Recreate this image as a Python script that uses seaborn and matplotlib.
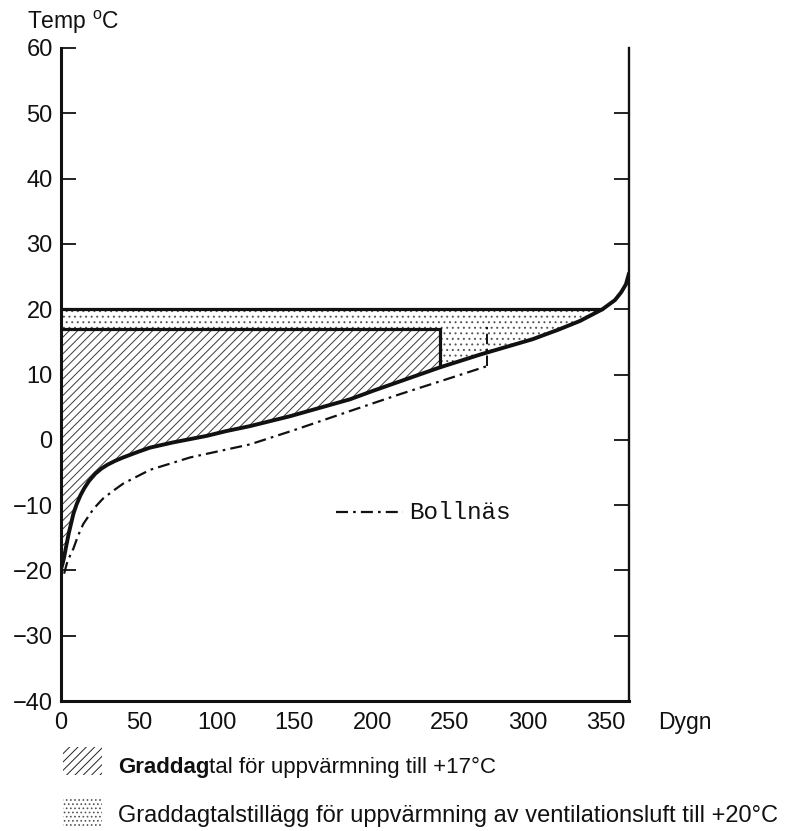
import matplotlib
matplotlib.use("Agg")
import matplotlib.pyplot as plt
from matplotlib.patches import Rectangle
import numpy as np
import seaborn as sns

# Duration curve of daily mean temperature (reference station)
days = [0, 1, 2, 3, 4, 5, 6.5, 8, 10, 12.5, 15, 18, 22, 26, 30, 35, 40, 50,
        57.2, 72, 93.6, 106.5, 121.5, 147, 185.7, 200.5, 243.6, 270, 303,
        320, 333.5, 348, 356, 360, 363, 365]
temps = [-19.8, -19.0, -18.0, -16.7, -15.5, -14.3, -12.8, -11.3, -9.9, -8.5,
         -7.4, -6.3, -5.2, -4.4, -3.8, -3.2, -2.7, -1.8, -1.2, -0.4, 0.6,
         1.35, 2.1, 3.6, 6.2, 7.5, 11.1, 13.1, 15.4, 16.9, 18.2, 20.0, 21.4,
         22.6, 23.8, 25.5]

# Duration curve for Bollnäs (ends where heating season stops)
boll_days = [2, 3.7, 4.7, 7.9, 11.1, 14.3, 20.8, 27, 33.6, 40, 57.2, 83,
             121.5, 150, 185.7, 218, 254, 274]
boll_temps = [-20.5, -19.0, -18.3, -16.7, -14.6, -12.9, -10.6, -9.0, -7.8,
              -6.7, -4.6, -2.7, -0.7, 1.5, 4.4, 7.0, 9.75, 11.3]
boll_limit = [11.3, 17.4]

# Heating limits
indoor_base = 17          # degree-day base temperature
vent_base = 20            # ventilation air temperature
heating_end = 243.6       # last heating day for the +17 base
vent_end = 348            # where the curve crosses +20

x_ticks = [0, 50, 100, 150, 200, 250, 300, 350]
y_ticks = [-40, -30, -20, -10, 0, 10, 20, 30, 40, 50, 60]
legend_labels = ["Graddag", "tal för uppvärmning till +17°C",
                 "Graddagtalstillägg för uppvärmning av ventilationsluft till +20°C"]

sns.set_theme(style="white")
plt.rcParams["font.family"] = ["Liberation Sans", "DejaVu Sans"]
plt.rcParams["mathtext.fontset"] = "custom"
plt.rcParams["mathtext.rm"] = "Liberation Sans"
plt.rcParams["hatch.linewidth"] = 0.7

W, H = 808, 831
fig = plt.figure(figsize=(W / 100, H / 100), dpi=100)
fig.patch.set_facecolor("white")
ax = fig.add_axes([61 / W, 1 - 701 / H, (629 - 61) / W, (701 - 48) / H])
ax.set_facecolor("white")

d = np.array(days)
t = np.array(temps)

# Hatched area: degree days to +17
m1 = d <= heating_end
ax.fill_between(d[m1], t[m1], indoor_base, facecolor="white",
                edgecolor="#3a3a3a", hatch="////", linewidth=0)

# Dotted area: extra degree days for ventilation air to +20
ax.fill_between([0, heating_end], indoor_base, vent_base, facecolor="white",
                edgecolor="#555555", hatch="...", linewidth=0)
m2 = (d >= heating_end) & (d <= vent_end)
ax.fill_between(d[m2], t[m2], vent_base, facecolor="white",
                edgecolor="#555555", hatch="...", linewidth=0)

# Boundary lines
ax.plot([0, vent_end], [vent_base, vent_base], color="#111111", lw=2.3,
        solid_capstyle="butt")
ax.plot([0, heating_end, heating_end], [indoor_base, indoor_base, t[m1][-1]],
        color="#111111", lw=2.3, solid_joinstyle="miter")

dashdot = (0, (5.4, 2.3, 1.2, 2.3))
sns.lineplot(x=boll_days, y=boll_temps, ax=ax, color="#111111", lw=1.6,
             linestyle=dashdot, estimator=None, sort=False)
ax.plot([boll_days[-1], boll_days[-1]], boll_limit, color="#111111", lw=1.4,
        linestyle=dashdot)

sns.lineplot(x=days, y=temps, ax=ax, color="#111111", lw=2.8,
             estimator=None, sort=False, solid_joinstyle="round")

# In-plot key for the Bollnäs curve
ax.plot([177, 220], [-11.1, -11.1], color="#111111", lw=1.6, linestyle=dashdot)
ax.text(224, -11.1, "Bollnäs", family=["Liberation Mono", "DejaVu Sans Mono"],
        fontsize=17.5, va="center", ha="left", color="#111111")

ax.set_xlim(0, 365)
ax.set_ylim(-40, 60)
ax.set_xticks(x_ticks)
ax.set_yticks(y_ticks)
ax.set_xlabel("")
ax.set_ylabel("")
ax.tick_params(axis="both", direction="in", length=11, width=1.3,
               colors="#111111", labelsize=17)
ax.tick_params(axis="y", pad=6)
ax.tick_params(axis="x", pad=8)
for side in ["left", "bottom"]:
    ax.spines[side].set_linewidth(2.2)
    ax.spines[side].set_color("#111111")
ax.spines["right"].set_linewidth(1.7)
ax.spines["right"].set_color("#111111")
ax.spines["top"].set_visible(False)

# Ticks along the right-hand edge
ax2 = ax.twinx()
ax2.set_ylim(-40, 60)
ax2.set_yticks(y_ticks[1:-1])
ax2.tick_params(axis="y", direction="in", length=11, width=1.3,
                colors="#111111", labelright=False)
for s in ax2.spines.values():
    s.set_visible(False)

# Axis titles
fig.text(27 / W, 1 - 22 / H, r"Temp $^{\mathrm{o}}$C", fontsize=16.5,
         va="center", ha="left", color="#111111")
fig.text(658 / W, 1 - 722 / H, "Dygn", fontsize=16.5, va="center", ha="left",
         color="#111111")

# Key below the chart
fig.patches.append(Rectangle((63 / W, 1 - 775 / H), 39 / W, 28 / H,
                             transform=fig.transFigure, facecolor="white",
                             edgecolor="#222222", hatch="////", linewidth=0))
fig.patches.append(Rectangle((63 / W, 1 - 827 / H), 39 / W, 29 / H,
                             transform=fig.transFigure, facecolor="white",
                             edgecolor="#555555", hatch="....", linewidth=0))
t1 = fig.text(118 / W, 1 - 773 / H, legend_labels[0], fontsize=16,
              fontweight="bold", va="baseline", ha="left", color="#111111")
ax.annotate(legend_labels[1], xy=(1, 0), xycoords=t1, va="bottom", ha="left",
            fontsize=16, color="#111111", annotation_clip=False)
fig.text(118 / W, 1 - 822 / H, legend_labels[2], fontsize=17,
         va="baseline", ha="left", color="#111111")

fig.savefig("out.png", dpi=100, facecolor="white")
